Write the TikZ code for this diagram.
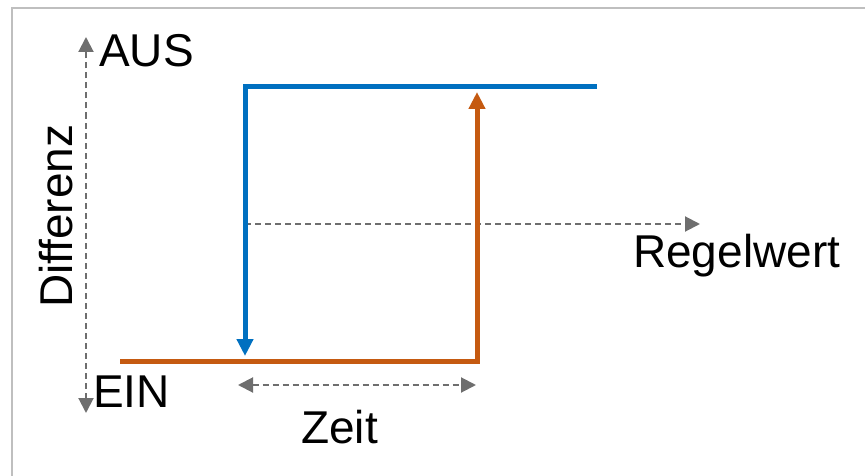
\documentclass[tikz,border=0pt]{standalone}
\usepackage{fontspec}
\setmainfont{Liberation Sans}
\usetikzlibrary{arrows.meta}
\definecolor{blueline}{HTML}{0070C0}
\definecolor{orangeline}{HTML}{C55A11}
\definecolor{axisgray}{HTML}{6E6E6E}
\definecolor{framegray}{HTML}{BFBFBF}
\tikzset{
  lbl/.style={inner sep=0pt, anchor=base west, font=\fontsize{46}{50}\selectfont},
  axisline/.style={draw=axisgray, line width=2pt, dash pattern=on 6pt off 4pt,
    arrows={Triangle[length=15pt,width=15pt,fill=axisgray]-Triangle[length=15pt,width=15pt,fill=axisgray]}},
  axisone/.style={draw=axisgray, line width=2pt, dash pattern=on 6pt off 4pt,
    -{Triangle[length=15pt,width=15pt,fill=axisgray]}},
  bluestep/.style={draw=blueline, line width=5pt, line join=miter,
    -{Triangle[length=17pt,width=16pt]}},
  orangestep/.style={draw=orangeline, line width=5pt, line join=miter,
    -{Triangle[length=17pt,width=16pt]}}
}
\begin{document}
\begin{tikzpicture}[x=1pt,y=1pt]
\useasboundingbox (0,0) rectangle (865,475);
% frame
\draw[framegray, line width=2pt] (12,-5) -- (12,467) -- (870,467);
% coordinates
\coordinate (vbot) at (86,62);
\coordinate (vtop) at (86,438);
\coordinate (b1) at (597,388);
\coordinate (b2) at (245,388);
\coordinate (b3) at (245,119);
\coordinate (o1) at (120,114);
\coordinate (o2) at (477,114);
\coordinate (o3) at (477,383);
\coordinate (hst) at (245,251);
\coordinate (hend) at (700,251);
\coordinate (zl) at (238,90);
\coordinate (zr) at (476,90);
% axes
\draw[axisline] (vbot) -- (vtop);
\draw[axisone] (hst) -- (hend);
\draw[axisline] (zl) -- (zr);
% steps
\draw[orangestep] (o1) -- (o2) -- (o3);
\draw[bluestep] (b1) -- (b2) -- (b3);
% labels
\node[lbl] (aus) at (99,408) {AUS};
\node[lbl] (ein) at (93,68) {EIN};
\node[lbl] (regel) at (633,208) {Regelwert};
\node[lbl] (zeit) at (301,32) {Zeit};
\node[lbl, rotate=90] (diff) at (72,167) {Differenz};
\end{tikzpicture}
\end{document}
